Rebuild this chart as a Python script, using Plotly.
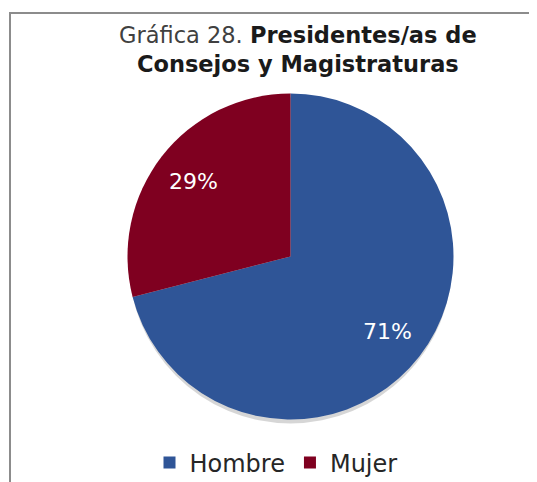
import math
import plotly.graph_objects as go

labels = ["Hombre", "Mujer"]
values = [71, 29]
colors = ["#2F5597", "#7F0020"]
title_regular = "Gráfica 28."
title_bold_1 = "Presidentes/as de"
title_bold_2 = "Consejos y Magistraturas"

W, H = 537, 482
OFF = 8  # page body margin
FONT = "'DejaVu Sans', sans-serif"

def px(x):
    return (x - OFF) / W

def py(y):
    return 1 - (y - OFF) / H

# pie geometry (page pixels)
CX, CY, R = 290.5, 256.5, 163

fig = go.Figure()
fig.add_trace(go.Pie(
    labels=labels, values=values, sort=False, direction="clockwise", rotation=0,
    marker=dict(colors=colors, line=dict(width=0)),
    textinfo="none",
    domain=dict(x=[px(CX - R), px(CX + R)], y=[py(CY + R), py(CY - R)]),
    hoverinfo="label+percent",
))

# percentage labels placed at mid-angle of each slice
total = sum(values)
cum = 0
for v in values:
    mid = (cum + v / 2) / total * 2 * math.pi
    cum += v
    lx = CX + 0.755 * R * math.sin(mid)
    ly = CY - 0.755 * R * math.cos(mid)
    fig.add_annotation(text=f"{round(100 * v / total)}%", x=px(lx), y=py(ly),
                       xref="paper", yref="paper", showarrow=False,
                       xanchor="center", yanchor="middle",
                       font=dict(size=22, color="white", family=FONT))

# subtle drop shadow behind the pie (mostly below)
fig.add_shape(type="circle", xref="paper", yref="paper", layer="below",
              x0=px(CX - R + 1), x1=px(CX + R - 1), y0=py(CY + R + 4), y1=py(CY - R + 4),
              fillcolor="rgba(0,0,0,0.16)", line=dict(width=0))

# chart border
fig.add_shape(type="rect", xref="paper", yref="paper",
              x0=px(10), x1=1.2, y0=-0.2, y1=py(13),
              line=dict(color="#8C8C8C", width=2), fillcolor="rgba(0,0,0,0)")

fig.add_annotation(
    text=f"<span style='color:#404040'>{title_regular}</span> <b>{title_bold_1}</b><br><b>{title_bold_2}</b>",
    xref="paper", yref="paper", x=px(298), y=py(49), xanchor="center", yanchor="middle",
    showarrow=False, font=dict(size=22.5, color="#1a1a1a", family=FONT), align="center",
)

fig.update_layout(
    width=W, height=H, margin=dict(l=0, r=0, t=0, b=0),
    paper_bgcolor="white", plot_bgcolor="white",
    showlegend=True,
    legend=dict(orientation="h", x=px(276), xanchor="center", y=py(463), yanchor="middle",
                font=dict(size=24, color="#262626", family=FONT), itemwidth=30),
)

fig.write_html("out.html")
